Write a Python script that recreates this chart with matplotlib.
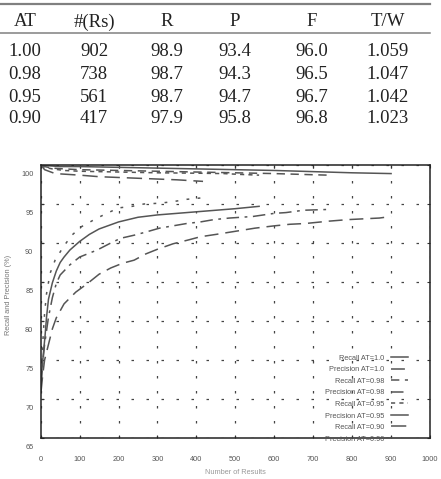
import numpy as np
import matplotlib
matplotlib.use('Agg')
import matplotlib.pyplot as plt
import matplotlib.transforms as mtransforms
from matplotlib.lines import Line2D

plt.rcParams['font.family'] = ['Liberation Sans', 'DejaVu Sans']
plt.rcParams['lines.scale_dashes'] = False

W, H = 441, 479

# ---- table values ----
col_names = ['AT', '#(Rs)', 'R', 'P', 'F', 'T/W']
at_vals = ['1.00', '0.98', '0.95', '0.90']
rs_vals = ['902', '738', '561', '417']
r_vals = ['98.9', '98.7', '98.7', '97.9']
p_vals = ['93.4', '94.3', '94.7', '95.8']
f_vals = ['96.0', '96.5', '96.7', '96.8']
tw_vals = ['1.059', '1.047', '1.042', '1.023']

# ---- curves ----
rec10_x = [1, 20, 50, 100, 200, 300, 400, 500, 600, 700, 800, 900]
rec10_y = [100, 99.9, 99.8, 99.8, 99.7, 99.6, 99.5, 99.4, 99.3, 99.15, 99.0, 98.9]

prec10_x = [1, 5, 10, 20, 30, 40, 60, 90, 120, 150, 180, 210, 240, 270, 300, 340, 380,
            410, 450, 500, 550, 600, 640, 680, 740, 790, 830, 870, 900]
prec10_y = [71, 73, 75, 77, 79, 80.4, 82.2, 83.7, 84.8, 86.0, 86.8, 87.4, 87.8, 88.6, 89.2,
            89.9, 90.4, 90.8, 91.1, 91.5, 91.9, 92.2, 92.4, 92.5, 92.8, 93.0, 93.1, 93.2, 93.4]

rec98_x = [1, 10, 30, 60, 100, 200, 300, 400, 500, 600, 700, 738]
rec98_y = [100, 99.8, 99.6, 99.5, 99.4, 99.3, 99.2, 99.1, 99.0, 98.9, 98.75, 98.7]

prec98_x = [1, 5, 10, 20, 30, 40, 50, 75, 100, 145, 180, 205, 240, 270, 305, 340, 375,
            410, 445, 485, 545, 600, 630, 675, 738]
prec98_y = [72, 74.5, 77, 80.5, 83, 84.8, 85.9, 87.2, 88.2, 89.1, 90.0, 90.6, 91.0, 91.4,
            91.9, 92.2, 92.5, 92.7, 93.0, 93.2, 93.4, 93.8, 93.9, 94.2, 94.3]

rec95_x = [1, 10, 30, 60, 100, 200, 300, 400, 470, 510, 561]
rec95_y = [100, 99.7, 99.5, 99.3, 99.2, 99.1, 99.0, 98.95, 98.9, 98.8, 98.7]

prec95_x = [1, 3, 7, 11, 15, 20, 30, 40, 50, 60, 75, 100, 125, 150, 200, 250, 300, 350,
            400, 450, 500, 561]
prec95_y = [72, 73.7, 75.9, 78, 80.5, 82.8, 84.9, 86.4, 87.5, 88.2, 89.1, 90.2, 91.1,
            91.8, 92.7, 93.3, 93.6, 93.8, 94.0, 94.2, 94.4, 94.7]

rec90_x = [1, 10, 37, 100, 150, 200, 250, 300, 350, 417]
rec90_y = [100, 99.4, 98.9, 98.7, 98.5, 98.4, 98.3, 98.2, 98.1, 97.9]

prec90_x = [1, 5, 10, 15, 24, 37, 58, 80, 105, 145, 170, 200, 235, 265, 305, 340, 375, 417]
prec90_y = [72, 77, 81, 83.5, 86.1, 87.8, 89.5, 91.0, 92.1, 93.2, 93.8, 94.5, 94.7, 95.0,
            95.1, 95.3, 95.6, 95.8]

x_ticks = [0, 100, 200, 300, 400, 500, 600, 700, 800, 900, 1000]
y_ticks = [65, 70, 75, 80, 85, 90, 95, 100]


def fx(px):
    return px / W


def fy(py):
    return 1 - py / H


fig = plt.figure(figsize=(W / 100, H / 100), dpi=100)

# ---- table on top ----
col_x = [25, 94, 167, 235, 312, 388]
rows = [at_vals, rs_vals, r_vals, p_vals, f_vals, tw_vals]
serif = dict(family=['Liberation Serif', 'DejaVu Serif'], size=13.5, color='#222222',
             ha='center', va='baseline')
for j, name in enumerate(col_names):
    fig.text(fx(col_x[j]), fy(26.5), name, **serif)
row_base = [56.5, 79, 101.5, 123.3]
for j, col in enumerate(rows):
    for i, v in enumerate(col):
        fig.text(fx(col_x[j]), fy(row_base[i]), v, **serif)

fig.add_artist(Line2D([0, fx(430)], [fy(4), fy(4)], transform=fig.transFigure,
                      color='#808080', lw=1.6))
fig.add_artist(Line2D([0, fx(430)], [fy(33.3), fy(33.3)], transform=fig.transFigure,
                      color='#808080', lw=1.1))

# ---- plot ----
ax = fig.add_axes([fx(40.7), fy(438), fx(430) - fx(40.7), fy(165) - fy(438)])

lc = '#555555'
lw = 1.1
ax.plot(rec10_x, rec10_y, color=lc, lw=lw, ls='-', label='Recall AT=1.0')
ax.plot(prec10_x, prec10_y, color=lc, lw=lw, ls=(0, (10, 5)), label='Precision AT=1.0')
ax.plot(rec98_x, rec98_y, color=lc, lw=lw, ls=(0, (6, 4)), label='Recall AT=0.98')
ax.plot(prec98_x, prec98_y, color=lc, lw=lw, ls=(0, (9, 4, 2, 4)), label='Precision AT=0.98')
ax.plot(rec95_x, rec95_y, color=lc, lw=lw, ls=(0, (3, 3)), label='Recall AT=0.95')
ax.plot(prec95_x, prec95_y, color=lc, lw=lw, ls='-', label='Precision AT=0.95')
ax.plot(rec90_x, rec90_y, color=lc, lw=lw, ls=(0, (11, 5)), label='Recall AT=0.90')
ax.plot(prec90_x, prec90_y, color=lc, lw=lw, ls=(0, (2, 6)), label='Precision AT=0.90')

ax.set_xlim(0, 1000)
ax.set_ylim(65, 100)
ax.set_xticks(x_ticks)
ax.set_yticks(y_ticks)

ax.grid(True, color='#444444', lw=0.9, ls=(0, (1.8, 9)))
for s in ax.spines.values():
    s.set_color('#222222')
    s.set_linewidth(1.1)

ax.tick_params(direction='in', length=2.2, width=0.8, color='#333333',
               top=True, right=True, labelsize=5.3, labelcolor='#555555')
ax.tick_params(axis='y', pad=5.3)
ax.tick_params(axis='x', pad=13)

# tick labels sit a little below their grid lines in the original
offset = mtransforms.ScaledTranslation(0, -9 / 100, fig.dpi_scale_trans)
for lab in ax.get_yticklabels():
    lab.set_transform(lab.get_transform() + offset)

ax.set_ylabel('Recall and Precision (%)', fontsize=5.3, color='#777777')
ax.yaxis.set_label_coords(-0.074, 0.524)
ax.set_xlabel('Number of Results', fontsize=5.3, color='#999999')
ax.xaxis.set_label_coords(0.5, -0.112)

leg = ax.legend(loc='lower right', bbox_to_anchor=(0.943, -0.017), frameon=False,
                markerfirst=False, fontsize=5.3, handlelength=2.34, handletextpad=0.9,
                labelspacing=0.6, borderpad=0, borderaxespad=0)
for t in leg.get_texts():
    t.set_color('#555555')

fig.savefig('out.png', dpi=100)
